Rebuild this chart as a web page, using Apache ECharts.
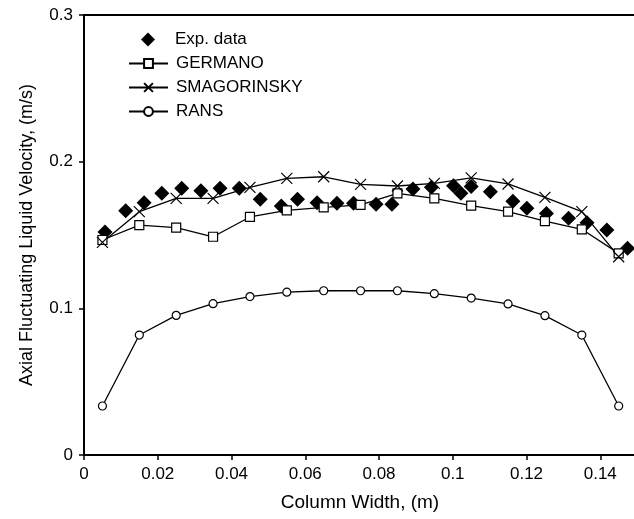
<!DOCTYPE html>
<html>
<head>
<meta charset="utf-8">
<script src="https://cdn.jsdelivr.net/npm/echarts@6/dist/echarts.min.js"></script>
<style>
  html, body { margin: 0; padding: 0; background: #fff; }
  #chart { width: 634px; height: 519px; }
</style>
</head>
<body>
<div id="chart"></div>
<script>
// experimental points (irregular x)
const expX = [0.0057, 0.0113, 0.0163, 0.0211, 0.0265, 0.0317, 0.0369, 0.0421, 0.0478, 0.0535,
  0.0579, 0.0632, 0.0686, 0.0731, 0.0792, 0.0835, 0.0892, 0.0942, 0.1002, 0.1022,
  0.1050, 0.1102, 0.1163, 0.1201, 0.1254, 0.1314, 0.1364, 0.1418, 0.1474];
const expY = [0.152, 0.1666, 0.172, 0.1784, 0.1818, 0.1802, 0.1818, 0.1818, 0.1743, 0.1698,
  0.1743, 0.172, 0.1716, 0.1716, 0.1709, 0.1709, 0.1814, 0.1825, 0.1836, 0.1784,
  0.183, 0.1795, 0.173, 0.1682, 0.1647, 0.1614, 0.1584, 0.1534, 0.1409];

// model curves share the same x positions
const modelX = [0.005, 0.015, 0.025, 0.035, 0.045, 0.055, 0.065, 0.075, 0.085, 0.095,
  0.105, 0.115, 0.125, 0.135, 0.145];
const germanoY = [0.1466, 0.1568, 0.155, 0.1488, 0.1623, 0.1668, 0.1689, 0.1705, 0.1784, 0.175,
  0.170, 0.1659, 0.1595, 0.1539, 0.1375];
const smagorinskyY = [0.145, 0.1659, 0.175, 0.175, 0.1825, 0.1886, 0.1897, 0.1845, 0.1834, 0.1852,
  0.189, 0.1848, 0.1757, 0.1659, 0.1352];
const ransY = [0.0334, 0.0818, 0.0952, 0.1032, 0.108, 0.111, 0.112, 0.112, 0.112, 0.110,
  0.107, 0.103, 0.095, 0.0818, 0.0334];

const xTicks = { min: 0, max: 0.16, interval: 0.02 };
const yTicks = { min: 0, max: 0.3, interval: 0.1 };

const FONT = 'Liberation Sans';
const crossPath = 'path://M0,0L10,10M10,0L0,10';

function pairs(xs, ys) {
  return xs.map((x, i) => [x, ys[i]]);
}

const chart = echarts.init(document.getElementById('chart'));

const lineSeries = (name, ys, symbol, size) => ({
  name: name,
  type: 'line',
  data: pairs(modelX, ys),
  symbol: symbol,
  symbolSize: size,
  showAllSymbol: true,
  lineStyle: { color: '#000', width: 1.3 },
  itemStyle: { color: '#fff', borderColor: '#000', borderWidth: 1.2 },
  z: 3
});

chart.setOption({
  animation: false,
  textStyle: { fontFamily: FONT },
  grid: {
    // plot runs past the right edge, so the frame is cut like the original
    left: 84, top: 15, bottom: 64, width: 590,
    outerBoundsMode: 'none',
    containLabel: false,
    show: true, borderColor: '#000', borderWidth: 2
  },
  legend: [{
    data: ['Exp. data'],
    left: 141, top: 31, padding: 0,
    itemWidth: 14, itemHeight: 14,
    textStyle: { fontFamily: FONT, fontSize: 17, color: '#000', padding: [0, 0, 0, 15] }
  }, {
    data: ['GERMANO', 'SMAGORINSKY', 'RANS'],
    orient: 'vertical',
    left: 128, top: 55, padding: 0,
    itemWidth: 39, itemHeight: 11, itemGap: 7,
    textStyle: { fontFamily: FONT, fontSize: 17, color: '#000', padding: [0, 0, 0, 3] }
  }],
  xAxis: {
    type: 'value',
    min: xTicks.min, max: xTicks.max, interval: xTicks.interval,
    name: 'Column Width, (m)',
    nameLocation: 'middle',
    nameGap: 38,
    nameTextStyle: { fontFamily: FONT, fontSize: 19, color: '#000', padding: [0, 38, 0, 0] },
    axisLine: { lineStyle: { color: '#000', width: 2 } },
    axisTick: { show: true, inside: false, length: 5, lineStyle: { color: '#000', width: 1.5 } },
    axisLabel: { fontFamily: FONT, fontSize: 17, color: '#000', margin: 11 },
    splitLine: { show: false }
  },
  yAxis: {
    type: 'value',
    min: yTicks.min, max: yTicks.max, interval: yTicks.interval,
    name: 'Axial Fluctuating Liquid Velocity, (m/s)',
    nameLocation: 'middle',
    nameGap: 48,
    nameTextStyle: { fontFamily: FONT, fontSize: 18, color: '#000' },
    axisLine: { lineStyle: { color: '#000', width: 2 } },
    axisTick: { show: true, inside: false, length: 5, lineStyle: { color: '#000', width: 1.5 } },
    axisLabel: { fontFamily: FONT, fontSize: 17, color: '#000', margin: 11 },
    splitLine: { show: false }
  },
  series: [
    {
      name: 'Exp. data',
      type: 'scatter',
      data: pairs(expX, expY),
      symbol: 'diamond',
      symbolSize: 15,
      itemStyle: { color: '#000', opacity: 1 },
      z: 2
    },
    lineSeries('GERMANO', germanoY, 'rect', 9),
    lineSeries('SMAGORINSKY', smagorinskyY, crossPath, 11),
    lineSeries('RANS', ransY, 'circle', 8)
  ]
});
</script>
</body>
</html>
